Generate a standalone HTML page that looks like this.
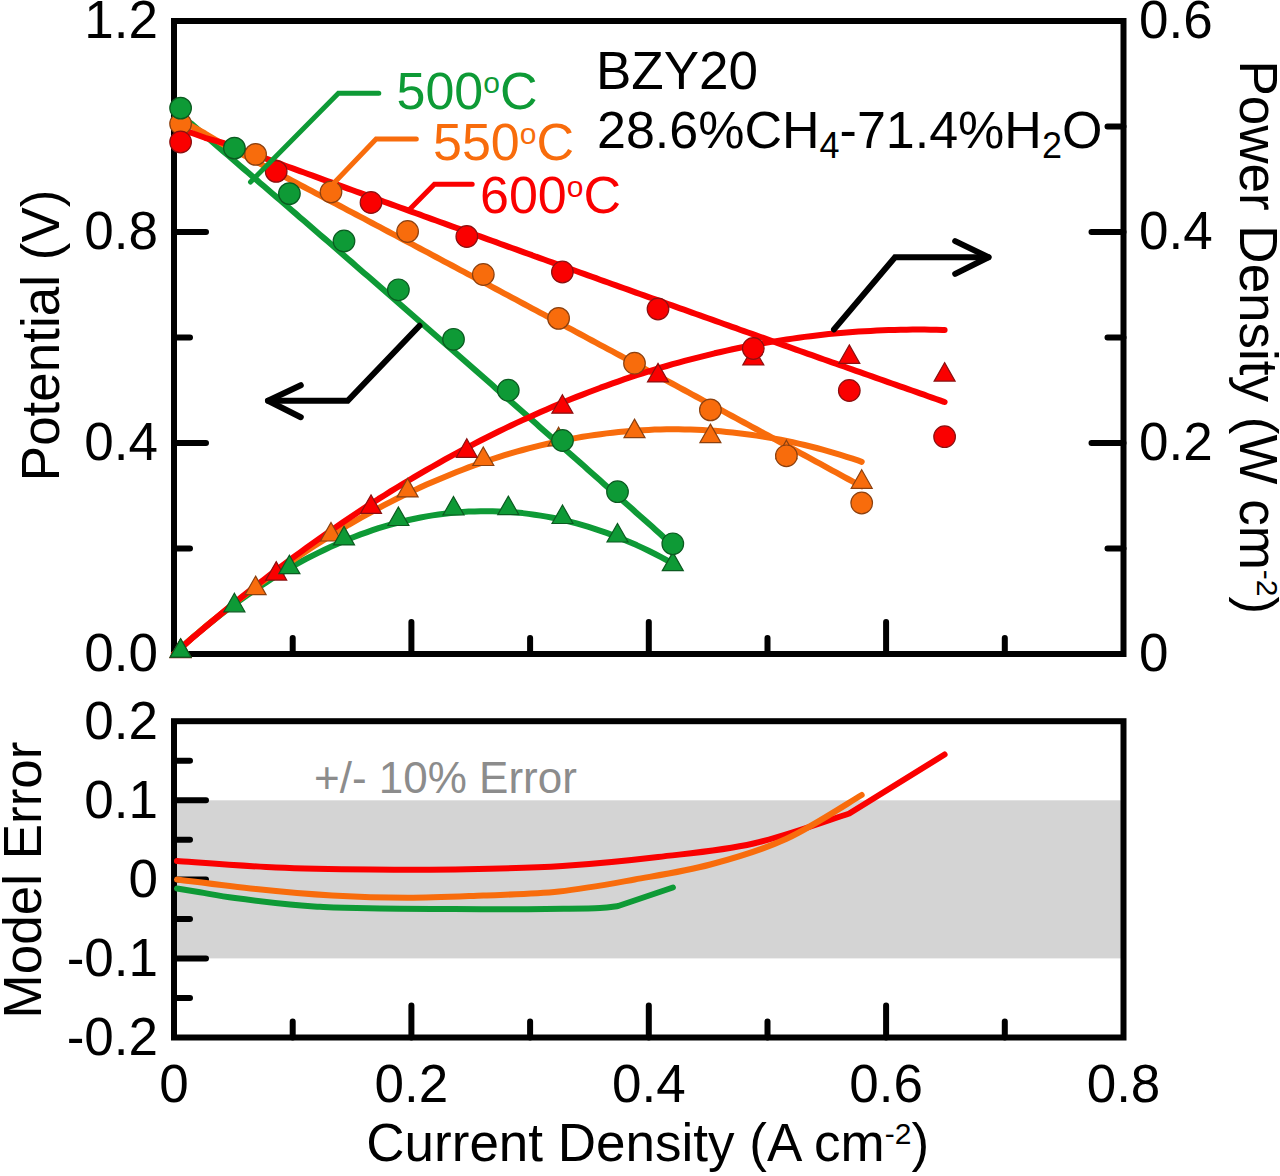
<!DOCTYPE html><html><head><meta charset="utf-8"><title>BZY20 fuel cell performance</title>
<style>html,body{margin:0;padding:0;background:#fff;}svg{display:block;}</style></head><body>
<svg width="1280" height="1176" viewBox="0 0 1280 1176" style="font-family:'Liberation Sans',sans-serif">
<rect x="0" y="0" width="1280" height="1176" fill="#fff"/>
<rect x="174.0" y="800.3" width="949.5" height="158.1" fill="#d4d4d4"/>
<rect x="174.0" y="21.0" width="949.5" height="633.0" fill="none" stroke="#000" stroke-width="6"/>
<rect x="174.0" y="721.2" width="949.5" height="316.29999999999995" fill="none" stroke="#000" stroke-width="6"/>
<path d="M174.0,548.5h16 M174.0,443.0h32 M174.0,337.5h16 M174.0,232.0h32 M174.0,126.5h16 M1123.5,548.5h-16 M1123.5,443.0h-32 M1123.5,337.5h-16 M1123.5,232.0h-32 M1123.5,126.5h-16 M292.7,654.0v-16 M292.7,1037.5v-16 M411.4,654.0v-32 M411.4,1037.5v-32 M530.1,654.0v-16 M530.1,1037.5v-16 M648.8,654.0v-32 M648.8,1037.5v-32 M767.5,654.0v-16 M767.5,1037.5v-16 M886.1,654.0v-32 M886.1,1037.5v-32 M1004.8,654.0v-16 M1004.8,1037.5v-16 M174.0,760.7h16 M174.0,800.3h32 M174.0,839.8h16 M174.0,879.4h32 M174.0,918.9h16 M174.0,958.4h32 M174.0,998.0h16" stroke="#000" stroke-width="6" stroke-linecap="round" fill="none"/>
<polyline points="180.6,117.0 191.2,123.5 205.0,135.5 224.0,151.9 228.0,155.3 232.0,158.8 236.0,162.2 240.0,165.7 244.0,169.1 248.0,172.5 252.0,176.0 256.0,179.4 260.0,182.9 264.0,186.3 268.0,189.8 272.0,193.2 276.0,196.6 280.0,200.1 284.0,203.6 288.0,207.0 292.0,210.5 296.0,213.9 300.0,217.4 304.0,220.8 308.0,224.3 312.0,227.8 316.0,231.2 320.0,234.7 324.0,238.1 328.0,241.6 332.0,245.1 336.0,248.5 340.0,252.0 344.0,255.5 348.0,259.0 352.0,262.4 356.0,265.9 360.0,269.4 364.0,272.9 368.0,276.3 372.0,279.8 376.0,283.3 380.0,286.8 384.0,290.3 388.0,293.8 392.0,297.2 396.0,300.7 400.0,304.2 404.0,307.7 408.0,311.2 412.0,314.7 416.0,318.2 420.0,321.7 424.0,325.2 428.0,328.7 432.0,332.2 436.0,335.7 440.0,339.2 444.0,342.7 448.0,346.2 452.0,349.7 456.0,353.2 460.0,356.7 464.0,360.2 468.0,363.7 472.0,367.2 476.0,370.8 480.0,374.3 484.0,377.8 488.0,381.3 492.0,384.8 496.0,388.4 500.0,391.9 504.0,395.4 508.0,398.9 512.0,402.4 516.0,406.0 520.0,409.5 524.0,413.0 528.0,416.6 532.0,420.1 536.0,423.6 540.0,427.2 544.0,430.7 548.0,434.2 552.0,437.8 556.0,441.3 560.0,444.9 564.0,448.4 568.0,451.9 572.0,455.5 576.0,459.0 580.0,462.6 584.0,466.1 588.0,469.7 592.0,473.2 596.0,476.8 600.0,480.3 604.0,483.9 608.0,487.4 612.0,491.0 616.0,494.6 620.0,498.1 624.0,501.7 628.0,505.2 632.0,508.8 636.0,512.4 640.0,515.9 644.0,519.5 648.0,523.1 652.0,526.6 656.0,530.2 660.0,533.8 664.0,537.4 668.0,540.9 672.0,544.5 672.9,545.3" fill="none" stroke="#0e9a36" stroke-width="6" stroke-linecap="round" stroke-linejoin="round"/>
<polyline points="174.0,654.0 180.6,648.1 186.6,642.8 192.6,637.6 198.6,632.5 204.6,627.5 210.6,622.6 216.6,617.9 222.6,613.2 228.6,608.6 234.6,604.2 240.6,599.8 246.6,595.5 252.6,591.4 258.6,587.3 264.6,583.4 270.6,579.5 276.6,575.8 282.6,572.2 288.6,568.6 294.6,565.2 300.6,561.9 306.6,558.7 312.6,555.6 318.6,552.6 324.6,549.7 330.6,546.9 336.6,544.2 342.6,541.6 348.6,539.1 354.6,536.7 360.6,534.4 366.6,532.3 372.6,530.2 378.6,528.2 384.6,526.4 390.6,524.7 396.6,523.0 402.6,521.5 408.6,520.0 414.6,518.7 420.6,517.5 426.6,516.4 432.6,515.4 438.6,514.5 444.6,513.7 450.6,513.0 456.6,512.4 462.6,512.0 468.6,511.6 474.6,511.4 480.6,511.2 486.6,511.2 492.6,511.2 498.6,511.4 504.6,511.7 510.6,512.1 516.6,512.5 522.6,513.1 528.6,513.9 534.6,514.7 540.6,515.6 546.6,516.6 552.6,517.8 558.6,519.0 564.6,520.4 570.6,521.8 576.6,523.4 582.6,525.1 588.6,526.9 594.6,528.8 600.6,530.8 606.6,532.9 612.6,535.1 618.6,537.5 624.6,539.9 630.6,542.5 636.6,545.1 642.6,547.9 648.6,550.8 654.6,553.8 660.6,556.9 666.6,560.1 672.6,563.4 672.9,563.6" fill="none" stroke="#0e9a36" stroke-width="6" stroke-linecap="round" stroke-linejoin="round"/>
<polyline points="180.6,122.0 191.2,126.0 205.0,133.5 224.0,144.8 228.0,146.9 232.0,149.0 236.0,151.1 240.0,153.2 244.0,155.3 248.0,157.4 252.0,159.5 256.0,161.6 260.0,163.7 264.0,165.8 268.0,168.0 272.0,170.1 276.0,172.2 280.0,174.3 284.0,176.4 288.0,178.5 292.0,180.6 296.0,182.7 300.0,184.9 304.0,187.0 308.0,189.1 312.0,191.2 316.0,193.3 320.0,195.4 324.0,197.5 328.0,199.7 332.0,201.8 336.0,203.9 340.0,206.0 344.0,208.1 348.0,210.3 352.0,212.4 356.0,214.5 360.0,216.6 364.0,218.7 368.0,220.9 372.0,223.0 376.0,225.1 380.0,227.2 384.0,229.4 388.0,231.5 392.0,233.6 396.0,235.7 400.0,237.9 404.0,240.0 408.0,242.1 412.0,244.2 416.0,246.4 420.0,248.5 424.0,250.6 428.0,252.7 432.0,254.9 436.0,257.0 440.0,259.1 444.0,261.3 448.0,263.4 452.0,265.5 456.0,267.7 460.0,269.8 464.0,271.9 468.0,274.1 472.0,276.2 476.0,278.3 480.0,280.5 484.0,282.6 488.0,284.7 492.0,286.9 496.0,289.0 500.0,291.2 504.0,293.3 508.0,295.4 512.0,297.6 516.0,299.7 520.0,301.9 524.0,304.0 528.0,306.1 532.0,308.3 536.0,310.4 540.0,312.6 544.0,314.7 548.0,316.8 552.0,319.0 556.0,321.1 560.0,323.3 564.0,325.4 568.0,327.6 572.0,329.7 576.0,331.9 580.0,334.0 584.0,336.2 588.0,338.3 592.0,340.5 596.0,342.6 600.0,344.8 604.0,346.9 608.0,349.1 612.0,351.2 616.0,353.4 620.0,355.5 624.0,357.7 628.0,359.8 632.0,362.0 636.0,364.1 640.0,366.3 644.0,368.4 648.0,370.6 652.0,372.7 656.0,374.9 660.0,377.1 664.0,379.2 668.0,381.4 672.0,383.5 676.0,385.7 680.0,387.8 684.0,390.0 688.0,392.2 692.0,394.3 696.0,396.5 700.0,398.7 704.0,400.8 708.0,403.0 712.0,405.1 716.0,407.3 720.0,409.5 724.0,411.6 728.0,413.8 732.0,416.0 736.0,418.1 740.0,420.3 744.0,422.5 748.0,424.6 752.0,426.8 756.0,429.0 760.0,431.1 764.0,433.3 768.0,435.5 772.0,437.6 776.0,439.8 780.0,442.0 784.0,444.2 788.0,446.3 792.0,448.5 796.0,450.7 800.0,452.9 804.0,455.0 808.0,457.2 812.0,459.4 816.0,461.6 820.0,463.7 824.0,465.9 828.0,468.1 832.0,470.3 836.0,472.4 840.0,474.6 844.0,476.8 848.0,479.0 852.0,481.2 856.0,483.3 860.0,485.5 861.7,486.4" fill="none" stroke="#f86c0c" stroke-width="6" stroke-linecap="round" stroke-linejoin="round"/>
<polyline points="174.0,654.0 180.6,648.1 186.6,642.9 192.6,637.6 198.6,632.5 204.6,627.4 210.6,622.4 216.6,617.5 222.6,612.6 228.6,607.8 234.6,603.1 240.6,598.4 246.6,593.8 252.6,589.2 258.6,584.7 264.6,580.3 270.6,575.9 276.6,571.6 282.6,567.3 288.6,563.2 294.6,559.0 300.6,555.0 306.6,551.0 312.6,547.1 318.6,543.2 324.6,539.4 330.6,535.7 336.6,532.0 342.6,528.4 348.6,524.8 354.6,521.4 360.6,517.9 366.6,514.6 372.6,511.3 378.6,508.1 384.6,504.9 390.6,501.8 396.6,498.8 402.6,495.8 408.6,492.9 414.6,490.1 420.6,487.3 426.6,484.6 432.6,482.0 438.6,479.4 444.6,476.9 450.6,474.4 456.6,472.0 462.6,469.7 468.6,467.4 474.6,465.2 480.6,463.1 486.6,461.0 492.6,459.0 498.6,457.1 504.6,455.2 510.6,453.4 516.6,451.7 522.6,450.0 528.6,448.4 534.6,446.9 540.6,445.4 546.6,444.0 552.6,442.6 558.6,441.3 564.6,440.1 570.6,439.0 576.6,437.9 582.6,436.8 588.6,435.9 594.6,435.0 600.6,434.2 606.6,433.4 612.6,432.7 618.6,432.1 624.6,431.5 630.6,431.0 636.6,430.5 642.6,430.2 648.6,429.9 654.6,429.6 660.6,429.5 666.6,429.3 672.6,429.3 678.6,429.3 684.6,429.4 690.6,429.6 696.6,429.8 702.6,430.1 708.6,430.4 714.6,430.8 720.6,431.3 726.6,431.9 732.6,432.5 738.6,433.2 744.6,433.9 750.6,434.7 756.6,435.6 762.6,436.6 768.6,437.6 774.6,438.6 780.6,439.8 786.6,441.0 792.6,442.3 798.6,443.6 804.6,445.0 810.6,446.5 816.6,448.0 822.6,449.7 828.6,451.3 834.6,453.1 840.6,454.9 846.6,456.8 852.6,458.7 858.6,460.7 861.7,461.8" fill="none" stroke="#f86c0c" stroke-width="6" stroke-linecap="round" stroke-linejoin="round"/>
<polyline points="180.6,130.0 191.2,132.8 205.0,137.8 224.0,143.2 228.0,144.7 232.0,146.2 236.0,147.6 240.0,149.1 244.0,150.6 248.0,152.0 252.0,153.5 256.0,155.0 260.0,156.4 264.0,157.9 268.0,159.4 272.0,160.8 276.0,162.3 280.0,163.7 284.0,165.2 288.0,166.7 292.0,168.1 296.0,169.6 300.0,171.1 304.0,172.5 308.0,174.0 312.0,175.4 316.0,176.9 320.0,178.4 324.0,179.8 328.0,181.3 332.0,182.7 336.0,184.2 340.0,185.6 344.0,187.1 348.0,188.6 352.0,190.0 356.0,191.5 360.0,192.9 364.0,194.4 368.0,195.8 372.0,197.3 376.0,198.8 380.0,200.2 384.0,201.7 388.0,203.1 392.0,204.6 396.0,206.0 400.0,207.5 404.0,208.9 408.0,210.4 412.0,211.8 416.0,213.3 420.0,214.7 424.0,216.2 428.0,217.6 432.0,219.1 436.0,220.5 440.0,222.0 444.0,223.4 448.0,224.9 452.0,226.3 456.0,227.8 460.0,229.2 464.0,230.7 468.0,232.1 472.0,233.6 476.0,235.0 480.0,236.4 484.0,237.9 488.0,239.3 492.0,240.8 496.0,242.2 500.0,243.7 504.0,245.1 508.0,246.6 512.0,248.0 516.0,249.4 520.0,250.9 524.0,252.3 528.0,253.8 532.0,255.2 536.0,256.7 540.0,258.1 544.0,259.5 548.0,261.0 552.0,262.4 556.0,263.8 560.0,265.3 564.0,266.7 568.0,268.2 572.0,269.6 576.0,271.0 580.0,272.5 584.0,273.9 588.0,275.3 592.0,276.8 596.0,278.2 600.0,279.7 604.0,281.1 608.0,282.5 612.0,284.0 616.0,285.4 620.0,286.8 624.0,288.3 628.0,289.7 632.0,291.1 636.0,292.6 640.0,294.0 644.0,295.4 648.0,296.8 652.0,298.3 656.0,299.7 660.0,301.1 664.0,302.6 668.0,304.0 672.0,305.4 676.0,306.9 680.0,308.3 684.0,309.7 688.0,311.1 692.0,312.6 696.0,314.0 700.0,315.4 704.0,316.8 708.0,318.3 712.0,319.7 716.0,321.1 720.0,322.5 724.0,324.0 728.0,325.4 732.0,326.8 736.0,328.2 740.0,329.7 744.0,331.1 748.0,332.5 752.0,333.9 756.0,335.4 760.0,336.8 764.0,338.2 768.0,339.6 772.0,341.0 776.0,342.5 780.0,343.9 784.0,345.3 788.0,346.7 792.0,348.1 796.0,349.6 800.0,351.0 804.0,352.4 808.0,353.8 812.0,355.2 816.0,356.6 820.0,358.1 824.0,359.5 828.0,360.9 832.0,362.3 836.0,363.7 840.0,365.1 844.0,366.5 848.0,368.0 852.0,369.4 856.0,370.8 860.0,372.2 864.0,373.6 868.0,375.0 872.0,376.4 876.0,377.8 880.0,379.3 884.0,380.7 888.0,382.1 892.0,383.5 896.0,384.9 900.0,386.3 904.0,387.7 908.0,389.1 912.0,390.5 916.0,391.9 920.0,393.3 924.0,394.7 928.0,396.2 932.0,397.6 936.0,399.0 940.0,400.4 944.0,401.8 944.6,402.0" fill="none" stroke="#fa0000" stroke-width="6" stroke-linecap="round" stroke-linejoin="round"/>
<polyline points="174.0,654.0 180.6,648.2 186.6,643.0 192.6,637.8 198.6,632.7 204.6,627.6 210.6,622.6 216.6,617.6 222.6,612.6 228.6,607.6 234.6,602.8 240.6,597.9 246.6,593.1 252.6,588.4 258.6,583.7 264.6,579.1 270.6,574.4 276.6,569.9 282.6,565.4 288.6,560.9 294.6,556.4 300.6,552.1 306.6,547.7 312.6,543.4 318.6,539.1 324.6,534.9 330.6,530.8 336.6,526.6 342.6,522.5 348.6,518.5 354.6,514.5 360.6,510.5 366.6,506.6 372.6,502.8 378.6,498.9 384.6,495.2 390.6,491.4 396.6,487.7 402.6,484.1 408.6,480.5 414.6,476.9 420.6,473.4 426.6,469.9 432.6,466.5 438.6,463.1 444.6,459.7 450.6,456.4 456.6,453.2 462.6,449.9 468.6,446.8 474.6,443.6 480.6,440.5 486.6,437.5 492.6,434.5 498.6,431.5 504.6,428.6 510.6,425.7 516.6,422.9 522.6,420.1 528.6,417.4 534.6,414.7 540.6,412.0 546.6,409.4 552.6,406.8 558.6,404.3 564.6,401.8 570.6,399.3 576.6,396.9 582.6,394.6 588.6,392.3 594.6,390.0 600.6,387.7 606.6,385.6 612.6,383.4 618.6,381.3 624.6,379.2 630.6,377.2 636.6,375.2 642.6,373.3 648.6,371.4 654.6,369.5 660.6,367.7 666.6,366.0 672.6,364.2 678.6,362.6 684.6,360.9 690.6,359.3 696.6,357.8 702.6,356.3 708.6,354.8 714.6,353.3 720.6,352.0 726.6,350.6 732.6,349.3 738.6,348.0 744.6,346.8 750.6,345.7 756.6,344.5 762.6,343.4 768.6,342.4 774.6,341.4 780.6,340.4 786.6,339.5 792.6,338.6 798.6,337.7 804.6,336.9 810.6,336.2 816.6,335.5 822.6,334.8 828.6,334.1 834.6,333.6 840.6,333.0 846.6,332.5 852.6,332.0 858.6,331.6 864.6,331.2 870.6,330.9 876.6,330.6 882.6,330.3 888.6,330.1 894.6,329.9 900.6,329.8 906.6,329.7 912.6,329.6 918.6,329.6 924.6,329.6 930.6,329.7 936.6,329.8 942.6,330.0 944.6,330.0" fill="none" stroke="#fa0000" stroke-width="6" stroke-linecap="round" stroke-linejoin="round"/>
<path d="M180.6,638.9 L191.1,657.4 L170.1,657.4 Z" fill="#f86c0c" stroke="#8a4010" stroke-width="1.2" stroke-linejoin="miter"/>
<path d="M255.6,576.1 L266.1,594.6 L245.1,594.6 Z" fill="#f86c0c" stroke="#8a4010" stroke-width="1.2" stroke-linejoin="miter"/>
<path d="M331.0,522.5 L341.5,541.0 L320.5,541.0 Z" fill="#f86c0c" stroke="#8a4010" stroke-width="1.2" stroke-linejoin="miter"/>
<path d="M407.6,478.4 L418.1,496.9 L397.1,496.9 Z" fill="#f86c0c" stroke="#8a4010" stroke-width="1.2" stroke-linejoin="miter"/>
<path d="M483.3,447.0 L493.8,465.5 L472.8,465.5 Z" fill="#f86c0c" stroke="#8a4010" stroke-width="1.2" stroke-linejoin="miter"/>
<path d="M558.6,427.3 L569.1,445.8 L548.1,445.8 Z" fill="#f86c0c" stroke="#8a4010" stroke-width="1.2" stroke-linejoin="miter"/>
<path d="M634.5,419.1 L645.0,437.6 L624.0,437.6 Z" fill="#f86c0c" stroke="#8a4010" stroke-width="1.2" stroke-linejoin="miter"/>
<path d="M710.4,424.1 L720.9,442.6 L699.9,442.6 Z" fill="#f86c0c" stroke="#8a4010" stroke-width="1.2" stroke-linejoin="miter"/>
<path d="M786.4,440.2 L796.9,458.7 L775.9,458.7 Z" fill="#f86c0c" stroke="#8a4010" stroke-width="1.2" stroke-linejoin="miter"/>
<path d="M861.7,469.8 L872.2,488.3 L851.2,488.3 Z" fill="#f86c0c" stroke="#8a4010" stroke-width="1.2" stroke-linejoin="miter"/>
<path d="M180.6,639.1 L191.1,657.6 L170.1,657.6 Z" fill="#fa0000" stroke="#8a1010" stroke-width="1.2" stroke-linejoin="miter"/>
<path d="M276.2,561.6 L286.7,580.1 L265.7,580.1 Z" fill="#fa0000" stroke="#8a1010" stroke-width="1.2" stroke-linejoin="miter"/>
<path d="M371.0,494.9 L381.5,513.4 L360.5,513.4 Z" fill="#fa0000" stroke="#8a1010" stroke-width="1.2" stroke-linejoin="miter"/>
<path d="M466.8,438.8 L477.3,457.3 L456.3,457.3 Z" fill="#fa0000" stroke="#8a1010" stroke-width="1.2" stroke-linejoin="miter"/>
<path d="M562.4,394.7 L572.9,413.2 L551.9,413.2 Z" fill="#fa0000" stroke="#8a1010" stroke-width="1.2" stroke-linejoin="miter"/>
<path d="M658.0,363.4 L668.5,381.9 L647.5,381.9 Z" fill="#fa0000" stroke="#8a1010" stroke-width="1.2" stroke-linejoin="miter"/>
<path d="M753.3,346.5 L763.8,365.0 L742.8,365.0 Z" fill="#fa0000" stroke="#8a1010" stroke-width="1.2" stroke-linejoin="miter"/>
<path d="M849.3,344.9 L859.8,363.4 L838.8,363.4 Z" fill="#fa0000" stroke="#8a1010" stroke-width="1.2" stroke-linejoin="miter"/>
<path d="M944.6,362.6 L955.1,381.1 L934.1,381.1 Z" fill="#fa0000" stroke="#8a1010" stroke-width="1.2" stroke-linejoin="miter"/>
<path d="M180.6,638.7 L191.1,657.2 L170.1,657.2 Z" fill="#0e9a36" stroke="#0b5a20" stroke-width="1.2" stroke-linejoin="miter"/>
<path d="M234.4,593.3 L244.9,611.8 L223.9,611.8 Z" fill="#0e9a36" stroke="#0b5a20" stroke-width="1.2" stroke-linejoin="miter"/>
<path d="M289.4,555.2 L299.9,573.7 L278.9,573.7 Z" fill="#0e9a36" stroke="#0b5a20" stroke-width="1.2" stroke-linejoin="miter"/>
<path d="M344.0,526.4 L354.5,544.9 L333.5,544.9 Z" fill="#0e9a36" stroke="#0b5a20" stroke-width="1.2" stroke-linejoin="miter"/>
<path d="M398.4,507.0 L408.9,525.5 L387.9,525.5 Z" fill="#0e9a36" stroke="#0b5a20" stroke-width="1.2" stroke-linejoin="miter"/>
<path d="M453.5,496.5 L464.0,515.0 L443.0,515.0 Z" fill="#0e9a36" stroke="#0b5a20" stroke-width="1.2" stroke-linejoin="miter"/>
<path d="M508.3,496.1 L518.8,514.6 L497.8,514.6 Z" fill="#0e9a36" stroke="#0b5a20" stroke-width="1.2" stroke-linejoin="miter"/>
<path d="M562.5,505.0 L573.0,523.5 L552.0,523.5 Z" fill="#0e9a36" stroke="#0b5a20" stroke-width="1.2" stroke-linejoin="miter"/>
<path d="M617.5,523.5 L628.0,542.0 L607.0,542.0 Z" fill="#0e9a36" stroke="#0b5a20" stroke-width="1.2" stroke-linejoin="miter"/>
<path d="M672.8,552.1 L683.3,570.6 L662.3,570.6 Z" fill="#0e9a36" stroke="#0b5a20" stroke-width="1.2" stroke-linejoin="miter"/>
<circle cx="180.6" cy="123.8" r="10.8" fill="#f86c0c" stroke="#8a4010" stroke-width="1.2"/>
<circle cx="255.6" cy="154.4" r="10.8" fill="#f86c0c" stroke="#8a4010" stroke-width="1.2"/>
<circle cx="331.0" cy="192.0" r="10.8" fill="#f86c0c" stroke="#8a4010" stroke-width="1.2"/>
<circle cx="407.6" cy="231.5" r="10.8" fill="#f86c0c" stroke="#8a4010" stroke-width="1.2"/>
<circle cx="483.3" cy="274.5" r="10.8" fill="#f86c0c" stroke="#8a4010" stroke-width="1.2"/>
<circle cx="558.6" cy="318.4" r="10.8" fill="#f86c0c" stroke="#8a4010" stroke-width="1.2"/>
<circle cx="634.5" cy="363.2" r="10.8" fill="#f86c0c" stroke="#8a4010" stroke-width="1.2"/>
<circle cx="710.4" cy="409.9" r="10.8" fill="#f86c0c" stroke="#8a4010" stroke-width="1.2"/>
<circle cx="786.4" cy="455.8" r="10.8" fill="#f86c0c" stroke="#8a4010" stroke-width="1.2"/>
<circle cx="861.7" cy="503.0" r="10.8" fill="#f86c0c" stroke="#8a4010" stroke-width="1.2"/>
<circle cx="180.6" cy="142.0" r="10.8" fill="#fa0000" stroke="#8a1010" stroke-width="1.2"/>
<circle cx="276.2" cy="171.4" r="10.8" fill="#fa0000" stroke="#8a1010" stroke-width="1.2"/>
<circle cx="371.0" cy="202.5" r="10.8" fill="#fa0000" stroke="#8a1010" stroke-width="1.2"/>
<circle cx="466.8" cy="236.5" r="10.8" fill="#fa0000" stroke="#8a1010" stroke-width="1.2"/>
<circle cx="562.4" cy="272.0" r="10.8" fill="#fa0000" stroke="#8a1010" stroke-width="1.2"/>
<circle cx="658.0" cy="309.0" r="10.8" fill="#fa0000" stroke="#8a1010" stroke-width="1.2"/>
<circle cx="753.3" cy="348.5" r="10.8" fill="#fa0000" stroke="#8a1010" stroke-width="1.2"/>
<circle cx="849.3" cy="390.5" r="10.8" fill="#fa0000" stroke="#8a1010" stroke-width="1.2"/>
<circle cx="944.6" cy="436.7" r="10.8" fill="#fa0000" stroke="#8a1010" stroke-width="1.2"/>
<circle cx="180.6" cy="108.1" r="10.8" fill="#0e9a36" stroke="#0b5a20" stroke-width="1.2"/>
<circle cx="234.4" cy="148.1" r="10.8" fill="#0e9a36" stroke="#0b5a20" stroke-width="1.2"/>
<circle cx="289.4" cy="193.6" r="10.8" fill="#0e9a36" stroke="#0b5a20" stroke-width="1.2"/>
<circle cx="344.0" cy="241.0" r="10.8" fill="#0e9a36" stroke="#0b5a20" stroke-width="1.2"/>
<circle cx="398.4" cy="289.8" r="10.8" fill="#0e9a36" stroke="#0b5a20" stroke-width="1.2"/>
<circle cx="453.5" cy="339.3" r="10.8" fill="#0e9a36" stroke="#0b5a20" stroke-width="1.2"/>
<circle cx="508.3" cy="390.2" r="10.8" fill="#0e9a36" stroke="#0b5a20" stroke-width="1.2"/>
<circle cx="562.5" cy="440.5" r="10.8" fill="#0e9a36" stroke="#0b5a20" stroke-width="1.2"/>
<circle cx="617.5" cy="491.7" r="10.8" fill="#0e9a36" stroke="#0b5a20" stroke-width="1.2"/>
<circle cx="672.8" cy="543.8" r="10.8" fill="#0e9a36" stroke="#0b5a20" stroke-width="1.2"/>
<path d="M177.0,861.0 C193.5,862.1 243.9,866.1 276.2,867.5 C308.5,868.9 339.2,869.2 371.0,869.5 C402.8,869.8 434.9,869.9 466.8,869.3 C498.7,868.7 530.5,868.0 562.4,866.0 C594.3,864.0 626.1,860.8 658.0,857.0 C689.9,853.2 721.6,850.8 753.5,843.5 C785.4,836.2 833.3,818.5 849.3,813.5 L944.6,754.5" fill="none" stroke="#fa0000" stroke-width="6" stroke-linecap="round" stroke-linejoin="round"/>
<path d="M177.0,879.5 C190.2,881.1 230.2,886.3 256.0,889.0 C281.8,891.7 306.7,894.0 332.0,895.5 C357.3,897.0 382.4,897.8 407.6,897.8 C432.8,897.8 458.1,896.5 483.3,895.5 C508.5,894.5 533.8,894.2 559.0,891.5 C584.2,888.8 609.5,884.0 634.7,879.5 C659.9,875.0 685.2,871.2 710.4,864.5 C735.6,857.8 760.8,850.6 786.0,839.0 C811.2,827.4 849.1,802.3 861.7,795.0" fill="none" stroke="#f86c0c" stroke-width="6" stroke-linecap="round" stroke-linejoin="round"/>
<path d="M177.0,888.5 C180.8,889.1 190.3,890.7 200.0,892.3 C209.7,893.9 220.0,896.0 235.0,898.0 C250.0,900.0 275.8,903.0 290.0,904.5 C304.2,906.0 310.9,906.2 320.0,906.8 C329.1,907.3 331.5,907.5 344.7,907.8 C357.9,908.1 381.2,908.6 399.4,908.8 C417.6,909.0 435.8,908.9 454.0,909.0 C472.2,909.1 490.6,909.2 508.8,909.2 C527.0,909.2 548.3,909.0 563.5,908.8 C578.7,908.6 590.9,908.5 600.0,908.0 C609.1,907.5 615.2,906.3 618.2,906.0 L672.9,887.5" fill="none" stroke="#0e9a36" stroke-width="6" stroke-linecap="round" stroke-linejoin="round"/>
<polyline points="419.5,325.8 347.7,400.8 268,400.8" fill="none" stroke="#000" stroke-width="6" stroke-linecap="round" stroke-linejoin="miter"/>
<polyline points="300.8,385.2 268,400.8 300.8,417.2" fill="none" stroke="#000" stroke-width="6" stroke-linecap="round" stroke-linejoin="round"/>
<polyline points="834,329.4 895,257.2 988.5,257.2" fill="none" stroke="#000" stroke-width="6" stroke-linecap="round" stroke-linejoin="miter"/>
<polyline points="955.2,241.1 988.5,257.2 955.2,273.9" fill="none" stroke="#000" stroke-width="6" stroke-linecap="round" stroke-linejoin="round"/>
<polyline points="378.8,93.3 338.4,93.3 250.5,182" fill="none" stroke="#0e9a36" stroke-width="5" stroke-linecap="round"/>
<polyline points="416.3,139 376.1,139 334,183" fill="none" stroke="#f86c0c" stroke-width="5" stroke-linecap="round"/>
<polyline points="472.2,184.3 434.4,184.3 409,210" fill="none" stroke="#fa0000" stroke-width="5" stroke-linecap="round"/>
<text x="158" y="38.3" font-size="53" fill="#000" text-anchor="end" >1.2</text>
<text x="158" y="249.3" font-size="53" fill="#000" text-anchor="end" >0.8</text>
<text x="158" y="460.3" font-size="53" fill="#000" text-anchor="end" >0.4</text>
<text x="158" y="671.3" font-size="53" fill="#000" text-anchor="end" >0.0</text>
<text x="1139" y="38.3" font-size="53" fill="#000" text-anchor="start" >0.6</text>
<text x="1139" y="249.3" font-size="53" fill="#000" text-anchor="start" >0.4</text>
<text x="1139" y="460.3" font-size="53" fill="#000" text-anchor="start" >0.2</text>
<text x="1139" y="671.3" font-size="53" fill="#000" text-anchor="start" >0</text>
<text x="158" y="738.5" font-size="53" fill="#000" text-anchor="end" >0.2</text>
<text x="158" y="817.6" font-size="53" fill="#000" text-anchor="end" >0.1</text>
<text x="158" y="896.6" font-size="53" fill="#000" text-anchor="end" >0</text>
<text x="158" y="975.7" font-size="53" fill="#000" text-anchor="end" >-0.1</text>
<text x="158" y="1054.8" font-size="53" fill="#000" text-anchor="end" >-0.2</text>
<text x="174.0" y="1101.5" font-size="53" fill="#000" text-anchor="middle" >0</text>
<text x="411.4" y="1101.5" font-size="53" fill="#000" text-anchor="middle" >0.2</text>
<text x="648.8" y="1101.5" font-size="53" fill="#000" text-anchor="middle" >0.4</text>
<text x="886.1" y="1101.5" font-size="53" fill="#000" text-anchor="middle" >0.6</text>
<text x="1123.5" y="1101.5" font-size="53" fill="#000" text-anchor="middle" >0.8</text>
<text transform="translate(58.7,335.4) rotate(-90)" font-size="53" text-anchor="middle">Potential (V)</text>
<text transform="translate(40.8,880) rotate(-90)" font-size="53" text-anchor="middle">Model Error</text>
<text transform="translate(1239.8,337.3) rotate(90)" font-size="53" text-anchor="middle">Power Density (W cm<tspan font-size="30" dy="-17">-2</tspan><tspan dy="17">)</tspan></text>
<text x="647.7" y="1161.3" font-size="53" text-anchor="middle">Current Density (A cm<tspan font-size="30" dy="-17">-2</tspan><tspan dy="17">)</tspan></text>
<text x="596" y="88.6" font-size="53" fill="#000" text-anchor="start" >BZY20</text>
<text x="597" y="148.3" font-size="52">28.6%CH<tspan font-size="36" dy="10">4</tspan><tspan dy="-10">-71.4%H</tspan><tspan font-size="36" dy="10">2</tspan><tspan dy="-10">O</tspan></text>
<text x="396.5" y="109.2" font-size="52" fill="#0e9a36">500<tspan font-size="30" dy="-16">o</tspan><tspan dy="16">C</tspan></text>
<text x="433" y="160.3" font-size="52" fill="#f86c0c">550<tspan font-size="30" dy="-16">o</tspan><tspan dy="16">C</tspan></text>
<text x="480" y="212.8" font-size="52" fill="#fa0000">600<tspan font-size="30" dy="-16">o</tspan><tspan dy="16">C</tspan></text>
<text x="314" y="793.4" font-size="44" fill="#8c8c8c" text-anchor="start" >+/- 10% Error</text>
</svg></body></html>
